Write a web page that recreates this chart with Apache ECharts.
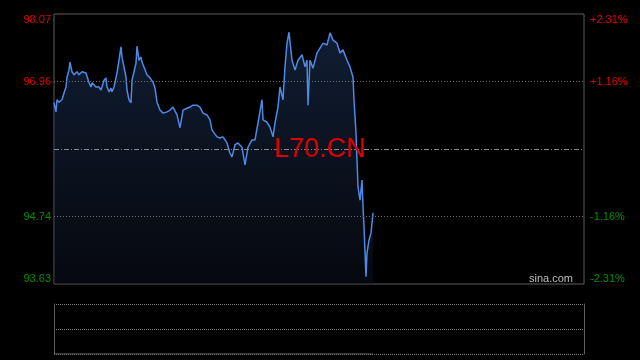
<!DOCTYPE html>
<html>
<head>
<meta charset="utf-8">
<script src="https://cdn.jsdelivr.net/npm/echarts@6/dist/echarts.min.js"></script>
<style>
html,body{margin:0;padding:0;background:#000;}
#chart{width:640px;height:360px;}
</style>
</head>
<body>
<div id="chart"></div>
<script>
// minute index within the session (session length 530 minutes)
const minutes = [0,2,3,5,8,10,12,13,15,16,18,20,22,23,25,27,28,30,32,33,35,37,38,40,42,43,45,47,48,50,52,53,55,57,58,60,62,63,65,67,68,70,72,73,75,77,78,80,82,83,85,87,88,90,93,96,99,101,103,106,109,113,116,119,123,126,129,133,136,139,143,146,149,153,156,158,163,166,169,173,176,178,181,184,188,191,194,198,201,204,208,209,213,216,219,221,224,226,229,231,233,235,238,241,244,248,251,253,254,256,259,263,266,269,273,276,279,283,286,289,293,296,299,300,302,303,304,306,308,309,310,312,313,315,317,319];
const prices = [96.61,96.46,96.66,96.62,96.66,96.77,96.87,97.03,97.15,97.28,97.12,97.07,97.07,97.12,97.07,97.05,97.12,97.10,97.10,97.07,96.94,96.87,96.94,96.95,96.87,96.85,96.87,96.82,96.87,96.98,97.02,96.87,96.79,96.85,96.79,96.87,96.87,97.10,97.31,97.53,97.36,97.20,97.03,96.82,96.66,96.61,96.98,97.12,97.26,97.54,97.31,97.36,97.28,97.31,97.07,97.02,96.95,96.85,96.62,96.49,96.44,96.46,96.49,96.54,96.41,96.20,96.49,96.52,96.54,96.57,96.57,96.54,96.44,96.41,96.33,96.16,96.05,96.03,96.05,95.95,95.78,95.72,95.92,95.95,95.88,95.59,95.88,96.00,96.00,96.28,96.66,96.33,96.29,96.21,96.05,96.28,96.54,96.87,96.66,97.20,97.59,97.77,97.31,97.15,97.31,97.40,97.20,97.31,96.57,97.31,97.18,97.43,97.51,97.59,97.56,97.76,97.64,97.59,97.43,97.48,97.31,97.20,97.03,96.66,96.11,95.67,95.23,95.01,95.34,94.90,94.57,93.75,94.14,94.35,94.47,94.80];
const volMinutes = [0,319];
const volumes = [0,0];
const sessionLength = 530;
const preClose = 95.85;
const priceMin = 93.63, priceMax = 98.07;
const priceTicks = [93.63, 94.74, 96.96, 98.07];
const pctLabels = ['-2.31%', '-1.16%', '+1.16%', '+2.31%'];
const levelLines = [96.96, 94.74];
const ticker = 'L70.CN';
const source = 'sina.com';

const RED = '#e00000', GREEN = '#009100';
const priceData = minutes.map((m, i) => [m, prices[i]]);
const volData = volMinutes.map((m, i) => [m, volumes[i]]);

const chart = echarts.init(document.getElementById('chart'));
const font = 'Arial, "Liberation Sans", sans-serif';
chart.setOption({
  backgroundColor: '#000',
  animation: false,
  grid: [
    {left: 54, right: 56, top: 14, height: 270, show: true, borderColor: '#5e5e5e', borderWidth: 1, backgroundColor: 'transparent'},
    {left: 54, right: 56, top: 304, height: 50, show: false}
  ],
  xAxis: [
    {type: 'value', gridIndex: 0, min: 0, max: sessionLength, show: false},
    {type: 'value', gridIndex: 1, min: 0, max: sessionLength, show: false}
  ],
  yAxis: [
    {type: 'value', gridIndex: 0, min: priceMin, max: priceMax, position: 'left',
     axisLine: {show: false}, axisTick: {show: false, customValues: priceTicks}, splitLine: {show: false},
     axisLabel: {customValues: priceTicks, margin: 3, fontSize: 11, fontFamily: font,
       verticalAlignMaxLabel: 'top', verticalAlignMinLabel: 'bottom',
       formatter: v => v.toFixed(2),
       color: v => (v > preClose ? RED : GREEN)}},
    {type: 'value', gridIndex: 0, min: priceMin, max: priceMax, position: 'right',
     axisLine: {show: false}, axisTick: {show: false, customValues: priceTicks}, splitLine: {show: false},
     axisLabel: {customValues: priceTicks, margin: 6, fontSize: 11, fontFamily: font,
       verticalAlignMaxLabel: 'top', verticalAlignMinLabel: 'bottom',
       formatter: v => pctLabels[priceTicks.findIndex(t => Math.abs(t - v) < 1e-6)] || '',
       color: v => (v > preClose ? RED : GREEN)}},
    {type: 'value', gridIndex: 1, min: 0, max: 2, interval: 1, position: 'left',
     axisLine: {show: true, lineStyle: {color: '#5e5e5e'}}, axisTick: {show: false}, axisLabel: {show: false},
     splitLine: {show: true, lineStyle: {color: '#7a7a7a', type: [1, 1]}}},
    {type: 'value', gridIndex: 1, min: 0, max: 2, position: 'right',
     axisLine: {show: true, lineStyle: {color: '#5e5e5e'}}, axisTick: {show: false}, axisLabel: {show: false},
     splitLine: {show: false}}
  ],
  graphic: [
    {type: 'text', x: 320, y: 150, z: 100, zlevel: 0,
     style: {text: ticker, fill: RED, font: '27px ' + font, align: 'center', verticalAlign: 'middle'}},
    {type: 'text', x: 573, y: 279, z: 100,
     style: {text: source, fill: '#bdbdbd', font: '11px ' + font, align: 'right', verticalAlign: 'middle'}}
  ],
  series: [
    {type: 'line', xAxisIndex: 0, yAxisIndex: 0, data: priceData, showSymbol: false, symbol: 'none', z: 3,
     lineStyle: {color: '#4d8ae8', width: 1.5},
     areaStyle: {color: new echarts.graphic.LinearGradient(0, 0, 0, 1, [
       {offset: 0, color: 'rgba(32,56,98,0.75)'},
       {offset: 1, color: 'rgba(14,20,34,0.6)'}
     ])},
     markLine: {silent: true, symbol: 'none', label: {show: false},
       data: [
         ...levelLines.map(v => ({yAxis: v, lineStyle: {color: '#6f6f6f', type: [1, 2], width: 1}})),
         {yAxis: preClose, lineStyle: {color: '#8a8a8a', type: [5, 2, 1, 2], width: 1}}
       ]}},
    {type: 'line', xAxisIndex: 1, yAxisIndex: 2, data: volData, showSymbol: false, symbol: 'none',
     lineStyle: {color: '#6a6a6a', width: 1}}
  ]
});
</script>
</body>
</html>
